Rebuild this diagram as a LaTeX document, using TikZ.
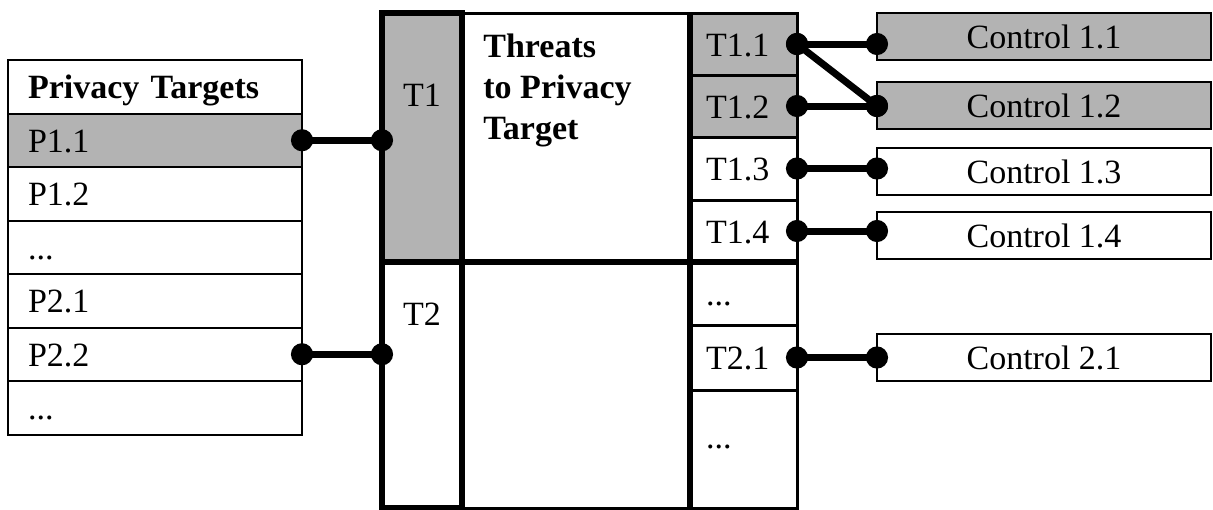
\documentclass[tikz,border=0pt]{standalone}
\usepackage{fontspec}
\setmainfont{Liberation Serif}
\usepackage{tikz}
\usetikzlibrary{positioning,arrows.meta}
\definecolor{cellgray}{RGB}{179,179,179}
\newcommand{\figfont}{\fontsize{17}{20.5}\selectfont}

\begin{document}
\begin{tikzpicture}[
    x=0.5pt, y=-0.5pt,
    font=\figfont,
    cell/.style={rectangle, draw, line width=1pt, outer sep=0pt, font=\figfont, text height=12pt, text depth=0pt},
    prow/.style={cell, minimum height=26.75pt, text width=127pt, inner xsep=10pt, align=left},
    trow/.style={cell, line width=1.5pt, minimum width=53.5pt, text width=37.5pt, inner xsep=8pt, align=left},
    ctrl/.style={cell, minimum width=167pt, minimum height=23.5pt},
    col/.style={rectangle, draw, line width=3pt, outer sep=0pt, minimum width=40pt},
    link/.style={line width=3.5pt, {Circle[length=11pt]}-{Circle[length=11pt]}, shorten <=-5.5pt, shorten >=-5.5pt}
]
    \useasboundingbox (0,0) rectangle (1213,509);

    % privacy targets
    \node[prow, font=\figfont\bfseries] (phead) at (155,86.75) {Privacy Targets};
    \node[prow, fill=cellgray, below=0pt of phead] (p11) {P1.1};
    \node[prow, below=0pt of p11] (p12) {P1.2};
    \node[prow, below=0pt of p12] (p1x) {...};
    \node[prow, below=0pt of p1x] (p21) {P2.1};
    \node[prow, below=0pt of p21] (p22) {P2.2};
    \node[prow, below=0pt of p22] (p2x) {...};

    % threats
    \node[cell, line width=1.5pt, minimum width=114pt, minimum height=124.5pt] (thr1) at (576,137.5) {};
    \node[cell, line width=1.5pt, minimum width=114pt, minimum height=123pt] (thr2) at (576,385) {};
    \node[anchor=north west, align=left, inner sep=0pt, font=\figfont\bfseries] (thrlab) at (483,34) {Threats\\to Privacy\\Target};

    \node[trow, fill=cellgray, minimum height=31pt] (t11) at (743.5,44) {T1.1};
    \node[trow, fill=cellgray, minimum height=31pt, below=0pt of t11] (t12) {T1.2};
    \node[trow, minimum height=31.5pt, below=0pt of t12] (t13) {T1.3};
    \node[trow, minimum height=31pt, below=0pt of t13] (t14) {T1.4};
    \node[trow, minimum height=31.5pt, below=0pt of t14] (t1x) {...};
    \node[trow, minimum height=32.5pt, below=0pt of t1x] (t21) {T2.1};
    \node[trow, minimum height=59pt, text depth=13pt, below=0pt of t21] (t2x) {...};

    \draw[line width=3pt] (thr1.south west) -- (t14.south east);
    \draw[line width=3pt] (t11.north west) -- (t2x.south west);

    \node[col, fill=cellgray, minimum height=124.5pt] (t1col) at (422,137.5) {};
    \node[col, minimum height=123pt] (t2col) at (422,385) {};
    \node (t1lab) at (422,95) {T1};
    \node (t2lab) at (422,314) {T2};

    % controls
    \node[ctrl, fill=cellgray] (c11) at (1044,36.5) {Control 1.1};
    \node[ctrl, fill=cellgray] (c12) at (1044,105) {Control 1.2};
    \node[ctrl] (c13) at (1044,171) {Control 1.3};
    \node[ctrl] (c14) at (1044,235.5) {Control 1.4};
    \node[ctrl] (c21) at (1044,357.5) {Control 2.1};

    % links
    \draw[link] (p11.east) -- (p11.east -| t1col.west);
    \draw[link] (p22.east) -- (p22.east -| t2col.west);
    \draw[link] (t11.east) -- (t11.east -| c11.west);
    \draw[link] (t11.east) -- (t12.east -| c12.west);
    \draw[link] (t12.east) -- (t12.east -| c12.west);
    \draw[link] (t13.east) -- (t13.east -| c13.west);
    \draw[link] (t14.east) -- (t14.east -| c14.west);
    \draw[link] (t21.east) -- (t21.east -| c21.west);
\end{tikzpicture}
\end{document}
